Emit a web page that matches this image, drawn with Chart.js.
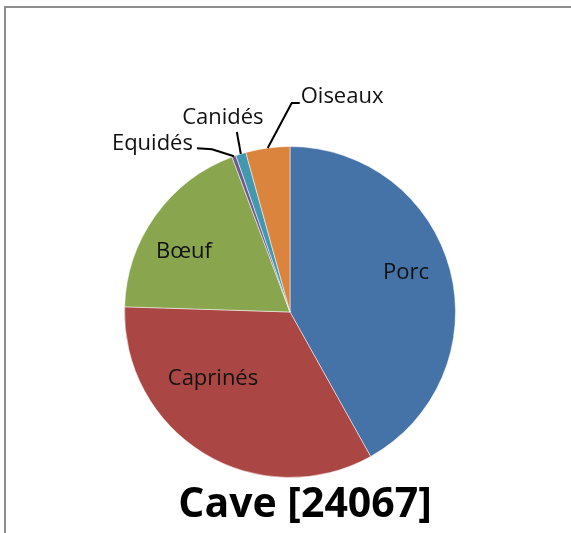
<!DOCTYPE html>
<html>
<head>
<meta charset="utf-8">
<script src="https://cdn.jsdelivr.net/npm/chart.js@4/dist/chart.umd.min.js"></script>
<style>
  body { margin: 0; background: #fff; }
  #wrap { position: relative; width: 571px; height: 533px; }
  #frame { position: absolute; left: 4px; top: 6px; right: -4px; bottom: -4px;
           border-top: 2px solid #8e8e8e; border-left: 2px solid #8e8e8e; }
  canvas { position: absolute; left: 0; top: 0; }
</style>
</head>
<body>
<div id="wrap">
  <div id="frame"></div>
  <canvas id="chart" width="571" height="533"></canvas>
</div>
<script>
const categories = ['Porc', 'Caprinés', 'Bœuf', 'Equidés', 'Canidés', 'Oiseaux'];
const shares = [41.9, 33.6, 18.8, 0.4, 1.0, 4.3];
const sliceColors = ['#4572A7', '#AA4643', '#89A54E', '#71588F', '#4198AF', '#DB843D'];
const chartTitle = 'Cave [24067]';

// where each label sits: inside ones relative to pie centre,
// outside ones relative to the slice's outer mid point (with a leader line)
const labelLayout = {
  'Porc':     { inside: true, dx: 116, dy: -39 },
  'Caprinés': { inside: true, dx: -77, dy: 67 },
  'Bœuf':     { inside: true, dx: -106, dy: -60 },
  'Equidés':  { line: [[-22, -7], [-37, -8]], tx: -41, ty: -13, align: 'right' },
  'Canidés':  { line: [[-4, -22]], tx: -18, ty: -36, align: 'center' },
  'Oiseaux':  { line: [[24, -45], [32, -45]], tx: 33, ty: -51, align: 'left' }
};

const labelFont = '22px "Open Sans", sans-serif';

const pieLabels = {
  id: 'pieLabels',
  afterDatasetsDraw(chart) {
    const ctx = chart.ctx;
    const meta = chart.getDatasetMeta(0);
    ctx.save();
    ctx.font = labelFont;
    ctx.fillStyle = '#111';
    ctx.strokeStyle = '#000';
    ctx.lineWidth = 2;
    ctx.textBaseline = 'middle';
    meta.data.forEach((arc, i) => {
      const name = chart.data.labels[i];
      const lay = labelLayout[name];
      if (!lay) return;
      const { x, y, startAngle, endAngle, outerRadius } = arc.getProps(['x', 'y', 'startAngle', 'endAngle', 'outerRadius'], true);
      if (lay.inside) {
        ctx.textAlign = 'center';
        ctx.fillText(name, x + lay.dx, y + lay.dy);
        return;
      }
      const mid = (startAngle + endAngle) / 2;
      const ax = x + Math.cos(mid) * outerRadius;
      const ay = y + Math.sin(mid) * outerRadius;
      ctx.beginPath();
      ctx.moveTo(ax, ay);
      lay.line.forEach(p => ctx.lineTo(ax + p[0], ay + p[1]));
      ctx.stroke();
      ctx.textAlign = lay.align;
      ctx.fillText(name, ax + lay.tx, ay + lay.ty);
    });
    ctx.restore();
  }
};

const bottomTitle = {
  id: 'bottomTitle',
  afterDraw(chart) {
    const ctx = chart.ctx;
    ctx.save();
    ctx.font = 'bold 41px "Open Sans", sans-serif';
    ctx.fillStyle = '#000';
    ctx.textAlign = 'center';
    ctx.textBaseline = 'middle';
    ctx.fillText(chartTitle, 305, 505);
    ctx.restore();
  }
};

new Chart(document.getElementById('chart'), {
  type: 'pie',
  data: {
    labels: categories,
    datasets: [{
      data: shares,
      backgroundColor: sliceColors,
      borderColor: 'rgba(255,255,255,0.5)',
      borderWidth: 1
    }]
  },
  options: {
    responsive: false,
    devicePixelRatio: 1,
    animation: false,
    layout: { padding: { left: 124, right: 115, top: 146, bottom: 55 } },
    plugins: {
      legend: { display: false },
      tooltip: { enabled: false }
    }
  },
  plugins: [pieLabels, bottomTitle]
});
</script>
</body>
</html>
